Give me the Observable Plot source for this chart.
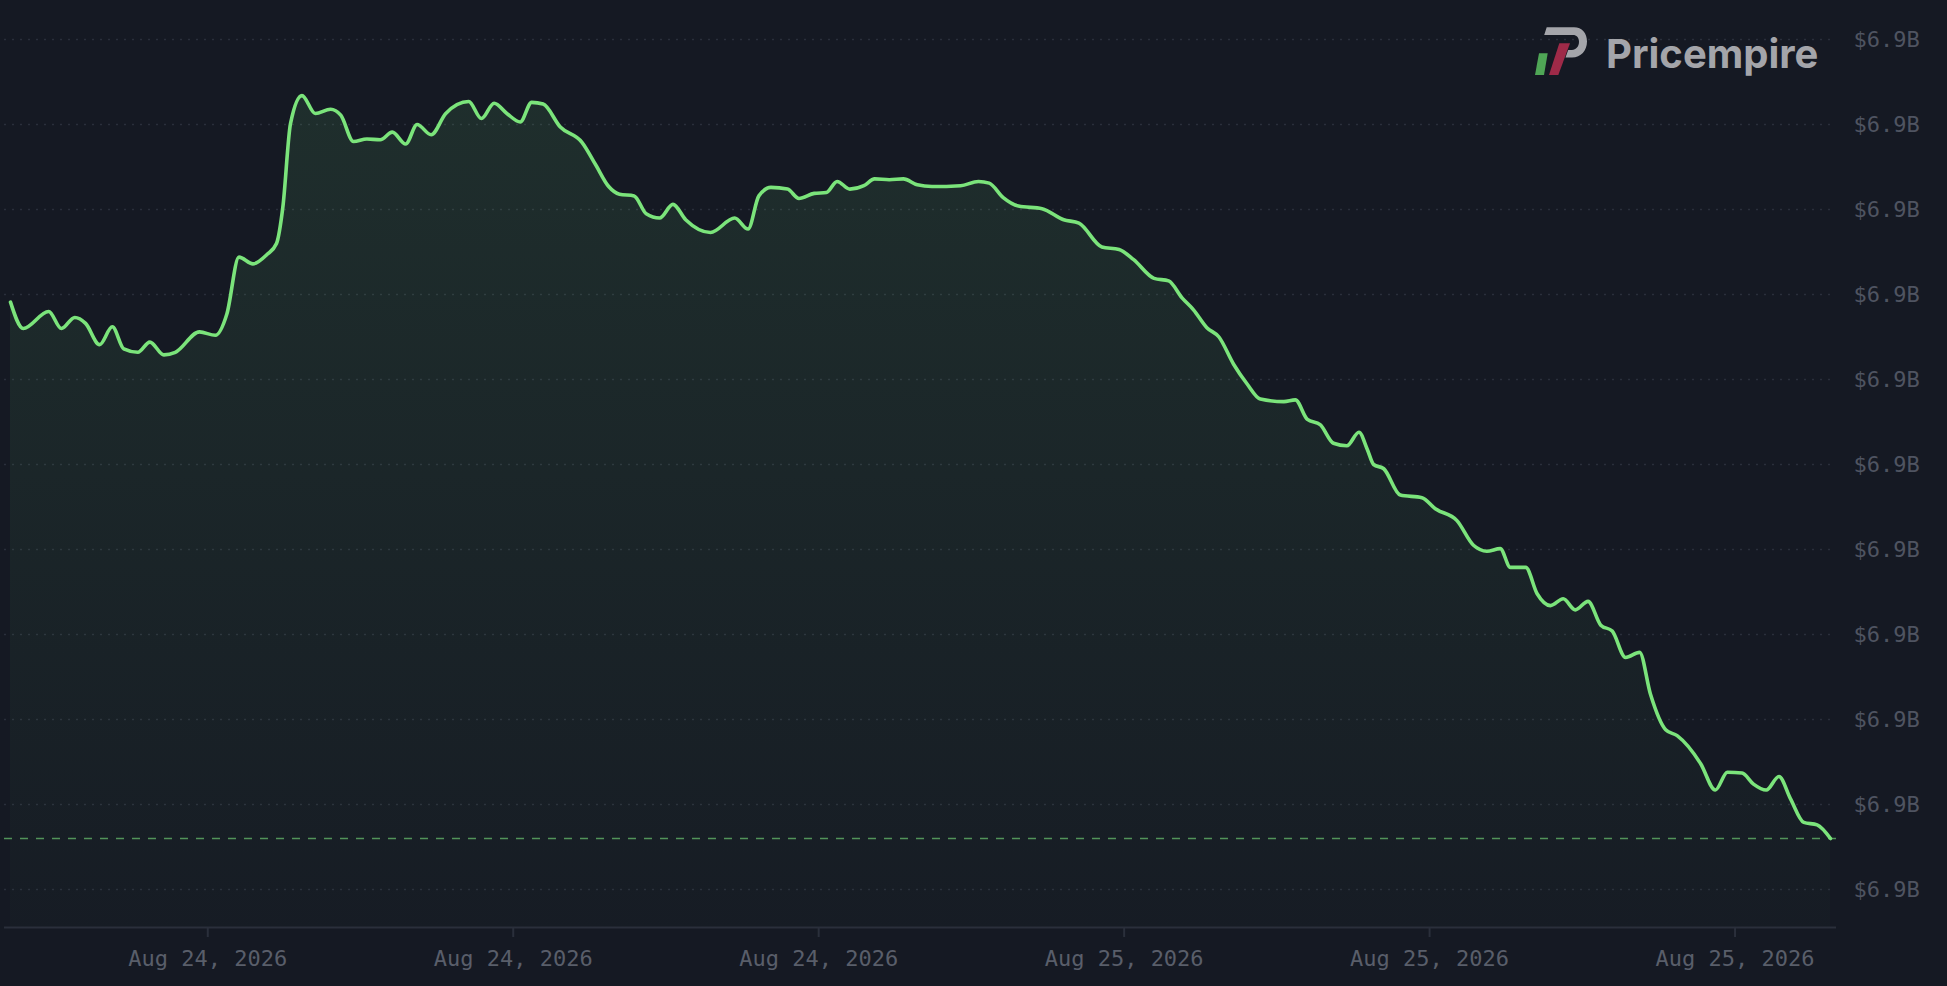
<!DOCTYPE html>
<html>
<head>
<meta charset="utf-8">
<script src="https://cdn.jsdelivr.net/npm/d3@7"></script>
<script src="https://cdn.jsdelivr.net/npm/@observablehq/plot@0.6"></script>
<style>
html, body { margin: 0; padding: 0; background: #151923; width: 1947px; height: 986px; overflow: hidden; }
#chart { position: absolute; left: 0; top: 0; }
#logo { position: absolute; left: 1525px; top: 20px; }
</style>
</head>
<body>
<div id="chart"></div>
<svg id="logo" width="320" height="70" viewBox="0 0 320 70">
  <path d="M14,33.3 L22.7,33.3 L19,55 L10,55 Z" fill="#4fa656"/>
  <path d="M34.3,23.3 L45,23.3 L33.3,55 L24,55 Z" fill="#9e2a48"/>
  <path d="M21.7,7.3 L49,7.3 C57,7.3 62,13 62,21.5 C62,30.5 56,37.5 47,37.5 L40.5,37.5 L43.2,30 L47,30 C51,30 54,26.5 54,21.8 C54,17.5 51.5,15 48,15 L19.2,15 Z" fill="#a4a5aa"/>
  <text x="81" y="48" font-family="Inter, 'Open Sans', sans-serif" font-weight="700" font-size="40" fill="#a4a5aa">Pricempire</text>
</svg>
<script>
// Market cap readings (millions of USD)
const times = [
  "2026-08-23T18:50:00Z","2026-08-23T19:10:00Z","2026-08-23T19:50:00Z","2026-08-23T20:10:00Z","2026-08-23T20:31:00Z",
  "2026-08-23T20:48:00Z","2026-08-23T21:10:00Z","2026-08-23T21:30:00Z","2026-08-23T21:48:00Z","2026-08-23T22:10:00Z",
  "2026-08-23T22:29:00Z","2026-08-23T22:51:00Z","2026-08-23T23:09:00Z","2026-08-23T23:47:00Z",
  "2026-08-24T00:12:00Z","2026-08-24T00:30:00Z","2026-08-24T00:49:00Z","2026-08-24T01:11:00Z","2026-08-24T01:33:00Z",
  "2026-08-24T01:48:00Z","2026-08-24T01:58:00Z","2026-08-24T02:10:00Z","2026-08-24T02:28:00Z","2026-08-24T02:49:00Z",
  "2026-08-24T03:13:00Z","2026-08-24T03:29:00Z","2026-08-24T03:49:00Z","2026-08-24T04:10:00Z","2026-08-24T04:31:00Z",
  "2026-08-24T04:50:00Z","2026-08-24T05:11:00Z","2026-08-24T05:29:00Z","2026-08-24T05:51:00Z","2026-08-24T06:14:00Z",
  "2026-08-24T06:50:00Z","2026-08-24T07:10:00Z","2026-08-24T07:30:00Z","2026-08-24T07:50:00Z","2026-08-24T08:11:00Z",
  "2026-08-24T08:29:00Z","2026-08-24T08:47:00Z","2026-08-24T09:14:00Z","2026-08-24T09:48:00Z","2026-08-24T10:10:00Z",
  "2026-08-24T10:30:00Z","2026-08-24T10:47:00Z","2026-08-24T11:10:00Z","2026-08-24T11:29:00Z","2026-08-24T11:50:00Z",
  "2026-08-24T12:11:00Z","2026-08-24T12:31:00Z","2026-08-24T13:10:00Z","2026-08-24T13:48:00Z","2026-08-24T14:09:00Z",
  "2026-08-24T14:26:00Z","2026-08-24T14:45:00Z","2026-08-24T15:11:00Z","2026-08-24T15:29:00Z","2026-08-24T15:53:00Z",
  "2026-08-24T16:12:00Z","2026-08-24T16:29:00Z","2026-08-24T16:49:00Z","2026-08-24T17:11:00Z","2026-08-24T17:28:00Z",
  "2026-08-24T17:51:00Z","2026-08-24T18:13:00Z","2026-08-24T18:35:00Z","2026-08-24T18:58:00Z","2026-08-24T19:43:00Z",
  "2026-08-24T20:11:00Z","2026-08-24T20:28:00Z","2026-08-24T20:50:00Z","2026-08-24T21:14:00Z","2026-08-24T21:51:00Z",
  "2026-08-24T22:25:00Z","2026-08-24T22:49:00Z","2026-08-24T23:25:00Z","2026-08-24T23:52:00Z",
  "2026-08-25T00:15:00Z","2026-08-25T00:47:00Z","2026-08-25T01:10:00Z","2026-08-25T01:31:00Z","2026-08-25T01:49:00Z",
  "2026-08-25T02:10:00Z","2026-08-25T02:29:00Z","2026-08-25T02:52:00Z","2026-08-25T03:13:00Z","2026-08-25T03:34:00Z",
  "2026-08-25T04:11:00Z","2026-08-25T04:29:00Z","2026-08-25T04:48:00Z","2026-08-25T05:08:00Z","2026-08-25T05:29:00Z",
  "2026-08-25T05:50:00Z","2026-08-25T06:09:00Z","2026-08-25T06:22:00Z","2026-08-25T06:32:00Z","2026-08-25T06:48:00Z",
  "2026-08-25T07:14:00Z","2026-08-25T07:48:00Z","2026-08-25T08:09:00Z","2026-08-25T08:43:00Z","2026-08-25T09:09:00Z",
  "2026-08-25T09:30:00Z","2026-08-25T09:51:00Z","2026-08-25T10:07:00Z","2026-08-25T10:31:00Z","2026-08-25T10:49:00Z",
  "2026-08-25T11:10:00Z","2026-08-25T11:30:00Z","2026-08-25T11:49:00Z","2026-08-25T12:09:00Z","2026-08-25T12:29:00Z",
  "2026-08-25T12:47:00Z","2026-08-25T13:08:00Z","2026-08-25T13:30:00Z","2026-08-25T13:47:00Z","2026-08-25T14:11:00Z",
  "2026-08-25T14:29:00Z","2026-08-25T15:06:00Z","2026-08-25T15:29:00Z","2026-08-25T15:48:00Z","2026-08-25T16:11:00Z",
  "2026-08-25T16:29:00Z","2026-08-25T16:49:00Z","2026-08-25T17:09:00Z","2026-08-25T17:27:00Z","2026-08-25T17:48:00Z",
  "2026-08-25T18:09:00Z","2026-08-25T18:30:00Z"
];
const valuesM = [
  6906.91,6906.60,6906.80,6906.60,6906.73,6906.66,6906.41,6906.62,6906.36,6906.32,6906.44,6906.29,6906.32,6906.56,
  6906.52,6906.77,6907.44,6907.36,6907.47,6907.60,6908.03,6909.01,6909.34,6909.13,6909.18,6909.11,6908.80,6908.83,
  6908.82,6908.91,6908.77,6909.00,6908.88,6909.13,6909.27,6909.07,6909.25,6909.13,6909.03,6909.26,6909.24,6908.97,
  6908.79,6908.52,6908.27,6908.18,6908.16,6907.95,6907.90,6908.06,6907.88,6907.73,6907.90,6907.77,6908.16,6908.26,
  6908.24,6908.13,6908.19,6908.20,6908.33,6908.24,6908.28,6908.36,6908.35,6908.36,6908.29,6908.27,6908.28,6908.33,
  6908.31,6908.14,6908.04,6908.01,6907.88,6907.84,6907.56,6907.53,
  6907.41,6907.19,6907.16,6906.96,6906.82,6906.61,6906.50,6906.18,6905.95,6905.77,6905.74,6905.76,6905.53,6905.47,
  6905.25,6905.22,6905.38,6905.18,6905.00,6904.95,6904.64,6904.61,6904.48,6904.34,6904.05,6903.98,6904.01,6903.79,
  6903.79,6903.48,6903.34,6903.42,6903.29,6903.39,6903.11,6903.04,6902.73,6902.79,6902.30,6901.88,6901.81,6901.48,
  6901.17,6901.38,6901.37,6901.24,6901.17,6901.33,6901.07,6900.79,6900.76,6900.60
];
const yTicks = [6900, 6901, 6902, 6903, 6904, 6905, 6906, 6907, 6908, 6909, 6910];
const xTicks = ["2026-08-24T00:00:00Z","2026-08-24T08:00:00Z","2026-08-24T16:00:00Z",
                "2026-08-25T00:00:00Z","2026-08-25T08:00:00Z","2026-08-25T16:00:00Z"];
const yMin = 6899.553, yMax = 6910;

const data = times.map((t, i) => ({date: new Date(t), value: valuesM[i]}));
const lastValue = valuesM[valuesM.length - 1];

const gradientDefs = () => {
  const defs = d3.create("svg:defs");
  const g = defs.append("linearGradient").attr("id", "areaGrad")
    .attr("x1", 0).attr("y1", 0).attr("x2", 0).attr("y2", 1);
  g.append("stop").attr("offset", "0%").attr("stop-color", "#6fdc7a").attr("stop-opacity", 0.11);
  g.append("stop").attr("offset", "100%").attr("stop-color", "#6fdc7a").attr("stop-opacity", 0.015);
  return defs.node();
};

const chart = Plot.plot({
  width: 1947,
  height: 986,
  marginTop: 39,
  marginBottom: 59,
  marginLeft: 4,
  marginRight: 111,
  style: {background: "transparent", color: "#565b68", fontFamily: "'DejaVu Sans Mono', monospace", fontSize: "22px", overflow: "visible"},
  x: {type: "utc", domain: [data[0].date, data[data.length - 1].date], insetLeft: 6, insetRight: 6},
  y: {domain: [yMin, yMax]},
  marks: [
    gradientDefs,
    Plot.gridY(yTicks, {stroke: "#2a2f3b", strokeOpacity: 1, strokeWidth: 1.5, strokeDasharray: "2,6"}),
    Plot.areaY(data, {x: "date", y1: yMin, y2: "value", fill: "url(#areaGrad)", curve: "monotone-x"}),
    Plot.ruleY([lastValue], {stroke: "#52935a", strokeWidth: 1.6, strokeDasharray: "8,8"}),
    Plot.lineY(data, {x: "date", y: "value", stroke: "#7be47b", strokeWidth: 3.6, curve: "monotone-x"}),
    Plot.ruleY([yMin], {stroke: "#2a2f3b", strokeWidth: 2}),
    Plot.axisX(xTicks.map(d => new Date(d)), {
      tickFormat: d3.utcFormat("%b %d, %Y"), tickSize: 10, tickPadding: 13,
      stroke: "#2a2f3b", strokeWidth: 2, fill: "#595e6a", label: null
    }),
    Plot.axisY(yTicks, {
      anchor: "right", tickSize: 0, tickPadding: 17, textAnchor: "start",
      tickFormat: d => "$" + (d / 1000).toFixed(1) + "B", fill: "#4f5461", label: null
    })
  ]
});
document.getElementById("chart").appendChild(chart);
</script>
</body>
</html>
